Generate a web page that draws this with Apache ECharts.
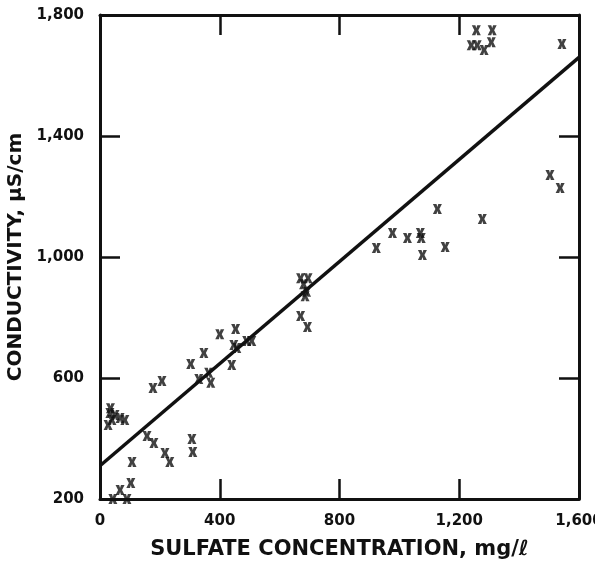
<!DOCTYPE html>
<html>
<head>
<meta charset="utf-8">
<script src="https://cdn.jsdelivr.net/npm/echarts@6/dist/echarts.min.js"></script>
<style>
  html, body { margin: 0; padding: 0; background: #fff; }
  #chart { width: 595px; height: 564px; }
</style>
</head>
<body>
<div id="chart"></div>
<script>
// 数据：硫酸盐浓度 (mg/l) 与电导率 (µS/cm)
const sulfate = [
    35, 33, 50, 67, 83, 40, 27,
    43, 67, 90, 103, 107,
    157, 180, 217, 233, 307, 310,
    177, 207, 303, 347, 330, 363, 370,
    400, 453, 447, 457, 440, 490, 507,
    670, 693,
    670, 695, 680, 690, 685,
    923, 977, 1027, 1070, 1073, 1077, 1127, 1153, 1277,
    1503, 1537,
    1257, 1310, 1240, 1260, 1283, 1307, 1543
];
const conductivity = [
    500, 484, 478, 468, 461, 461, 445,
    200, 230, 200, 253, 322,
    408, 385, 352, 322, 398, 355,
    567, 590, 646, 683, 597, 617, 584,
    745, 762, 709, 699, 643, 722, 722,
    805, 769,
    930, 930, 910, 885, 870,
    1030, 1079, 1063, 1079, 1063, 1007, 1159, 1033, 1126,
    1271, 1228,
    1750, 1750, 1700, 1700, 1684, 1710, 1704
];
// 回归直线两端
const fitX = [0, 1600];
const fitY = [310, 1660];

const xTicks = [0, 400, 800, 1200, 1600];
const yTicks = [200, 600, 1000, 1400, 1800];

const ink = '#111';
const font = 'DejaVu Sans';
// 粗体 "x" 记号
const xMark = 'path://M0,0 L4,0 L5,3 L6,0 L10,0 L7.2,5 L10,10 L6,10 L5,7 L4,10 L0,10 L2.8,5 Z';

function fmt(v) {
    return v.toLocaleString('en-US');
}

const chart = echarts.init(document.getElementById('chart'));

const baseX = {
    type: 'value',
    min: xTicks[0],
    max: xTicks[xTicks.length - 1],
    interval: 400,
    splitLine: { show: false },
    axisLine: { show: true, onZero: false, lineStyle: { color: ink, width: 3 } },
    axisTick: { show: true, inside: true, length: 20, lineStyle: { color: ink, width: 2.5 } }
};
const baseY = {
    type: 'value',
    min: yTicks[0],
    max: yTicks[yTicks.length - 1],
    interval: 400,
    splitLine: { show: false },
    axisLine: { show: true, onZero: false, lineStyle: { color: ink, width: 3 } },
    axisTick: { show: true, inside: true, length: 20, lineStyle: { color: ink, width: 2.5 } }
};

const option = {
    animation: false,
    backgroundColor: '#fff',
    grid: { left: 100, right: 16, top: 15, bottom: 65, outerBoundsMode: 'none' },
    xAxis: [
        Object.assign({}, baseX, {
            position: 'bottom',
            name: 'SULFATE CONCENTRATION, mg/\u2113',
            nameLocation: 'middle',
            nameGap: 40,
            nameTextStyle: { fontFamily: font, fontWeight: 'bold', fontSize: 21, color: ink },
            axisLabel: { formatter: fmt, fontFamily: font, fontWeight: 'bold', fontSize: 15, color: ink, margin: 15 }
        }),
        Object.assign({}, baseX, { position: 'top', axisLabel: { show: false } })
    ],
    yAxis: [
        Object.assign({}, baseY, {
            position: 'left',
            name: 'CONDUCTIVITY, \u03BCS/cm',
            nameLocation: 'middle',
            nameGap: 62,
            nameTextStyle: { fontFamily: font, fontWeight: 'bold', fontSize: 20, color: ink },
            axisLabel: { formatter: fmt, fontFamily: font, fontWeight: 'bold', fontSize: 15, color: ink, margin: 16 }
        }),
        Object.assign({}, baseY, { position: 'right', axisLabel: { show: false } })
    ],
    series: [
        {
            type: 'scatter',
            xAxisIndex: 0,
            yAxisIndex: 0,
            symbol: xMark,
            symbolSize: [9, 10],
            itemStyle: { color: ink },
            data: sulfate.map((s, i) => [s, conductivity[i]])
        },
        {
            type: 'line',
            xAxisIndex: 0,
            yAxisIndex: 0,
            symbol: 'none',
            lineStyle: { color: ink, width: 3.5 },
            data: fitX.map((s, i) => [s, fitY[i]])
        }
    ]
};

chart.setOption(option);
</script>
</body>
</html>
